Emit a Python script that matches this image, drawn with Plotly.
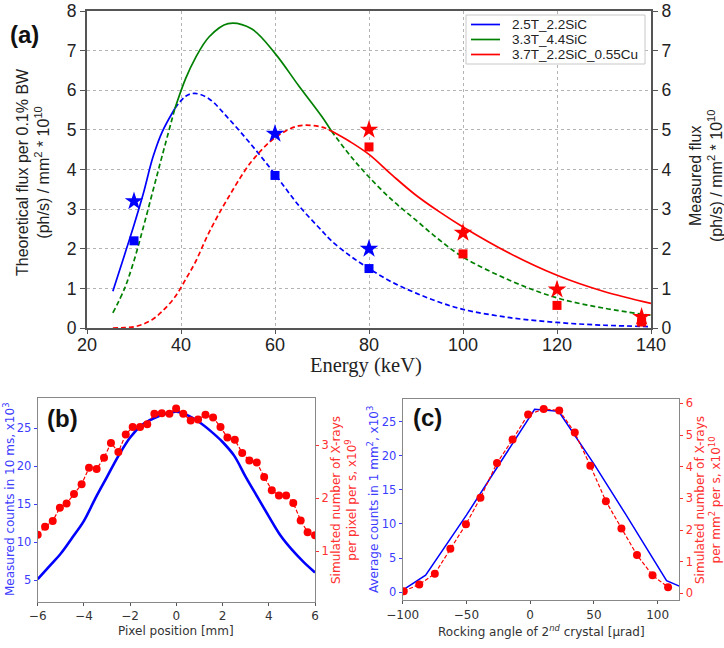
import plotly.graph_objects as go

W, H = 724, 648
def PX(x): return x / W
def PY(y): return 1 - y / H

# ---------------- Panel (a) data ----------------
energy = [25.5, 28, 30, 32, 34, 36, 38.7, 41, 43, 46, 50, 55, 60, 65, 70, 72, 76, 80, 85, 90, 95, 100, 110, 120, 130, 140]
flux_25T = [0.93, 1.85, 2.6, 3.4, 4.3, 4.95, 5.54, 5.85, 5.92, 5.78, 5.3, 4.62, 3.88, 3.1, 2.45, 2.2, 1.82, 1.5, 1.15, 0.88, 0.65, 0.47, 0.26, 0.14, 0.07, 0.035]
flux_33T = [0.38, 1.0, 1.7, 2.55, 3.45, 4.35, 5.54, 6.3, 6.8, 7.35, 7.68, 7.55, 6.93, 6.12, 5.33, 4.97, 4.35, 3.81, 3.22, 2.72, 2.22, 1.79, 1.2, 0.76, 0.5, 0.32]
flux_37T = [0.0, 0.01, 0.03, 0.1, 0.22, 0.42, 0.78, 1.23, 1.65, 2.42, 3.28, 4.2, 4.8, 5.1, 5.07, 4.97, 4.7, 4.38, 3.85, 3.35, 2.93, 2.55, 1.88, 1.33, 0.92, 0.62]
series_names = ["2.5T_2.2SiC", "3.3T_4.4SiC", "3.7T_2.2SiC_0.55Cu"]
series_colors = ["#0000ff", "#008000", "#ff0000"]
solid_ranges = [(25.5, 38.7), (38.7, 72), (72, 140)]

meas_energy_blue = [30, 60, 80]
meas_star_blue = [3.2, 4.9, 2.0]
meas_square_blue = [2.2, 3.85, 1.5]
meas_energy_red = [80, 100, 120, 138]
meas_star_red = [5.0, 2.4, 0.97, 0.28]
meas_square_red = [4.57, 1.87, 0.57, 0.15]

# ---------------- Panel (b) data ----------------
pixel_pos = [-6, -5.5, -5, -4.5, -4, -3.5, -3, -2.5, -2, -1.5, -1, -0.5, 0, 0.5, 1, 1.5, 2, 2.5, 3, 3.5, 4, 4.5, 5, 5.5, 6]
measured_counts = [5.1, 6.8, 8.5, 10.6, 12.8, 15.8, 18.6, 21.4, 23.8, 25.4, 26.3, 26.9, 27.2, 26.7, 25.8, 24.6, 23.2, 21.4, 18.6, 16.0, 13.4, 10.9, 9.0, 7.4, 6.0]
sim_pos = [-6.0, -5.68, -5.35, -5.04, -4.75, -4.43, -4.10, -3.78, -3.45, -3.13, -2.83, -2.51, -2.19, -1.89, -1.57, -1.26, -0.95, -0.63, -0.30, -0.01, 0.30, 0.62, 0.94, 1.26, 1.59, 1.91, 2.21, 2.53, 2.85, 3.16, 3.48, 3.80, 4.13, 4.44, 4.75, 5.06, 5.38, 5.68, 6.0]
sim_xrays = [1.31, 1.46, 1.57, 1.82, 1.90, 2.08, 2.26, 2.57, 2.55, 2.76, 3.04, 2.87, 3.20, 3.34, 3.34, 3.39, 3.59, 3.60, 3.59, 3.69, 3.59, 3.46, 3.48, 3.57, 3.52, 3.34, 3.14, 3.10, 2.85, 2.71, 2.67, 2.40, 2.15, 2.05, 2.05, 1.91, 1.58, 1.36, 1.30]

# ---------------- Panel (c) data ----------------
rock_angle = [-100, -82, -50, -25, 3.5, 22.3, 50, 75, 107, 117]
avg_counts = [0.3, 2.5, 11.3, 18.5, 26.8, 26.5, 18.8, 11.4, 1.7, 0.9]
sim_angle = [-99.2, -87, -74.8, -62.6, -50.4, -39, -26, -13.8, -1.6, 10.6, 22.8, 35, 47.2, 59.4, 71.6, 83.8, 96, 108.2]
sim_rock = [0.07, 0.28, 0.62, 1.41, 2.18, 3.02, 4.12, 4.86, 5.65, 5.82, 5.78, 5.08, 4.03, 2.91, 2.05, 1.21, 0.57, 0.19]

fig = go.Figure()

# ---- panel (a) curves ----
for vals, name, col, (lo, hi) in zip([flux_25T, flux_33T, flux_37T], series_names, series_colors, solid_ranges):
    sx = [e for e in energy if lo <= e <= hi]
    sy = [v for e, v in zip(energy, vals) if lo <= e <= hi]
    dx, dy = [], []
    left = [(e, v) for e, v in zip(energy, vals) if e <= lo]
    right = [(e, v) for e, v in zip(energy, vals) if e >= hi]
    if len(left) > 1:
        dx += [p[0] for p in left] + [None]
        dy += [p[1] for p in left] + [None]
    if len(right) > 1:
        dx += [p[0] for p in right]
        dy += [p[1] for p in right]
    fig.add_trace(go.Scatter(x=dx, y=dy, mode="lines", line=dict(color=col, width=1.7, dash="5px,3px", shape="spline"),
                             showlegend=False, xaxis="x", yaxis="y", hoverinfo="skip"))
    fig.add_trace(go.Scatter(x=sx, y=sy, mode="lines", name=name, line=dict(color=col, width=1.7, shape="spline"),
                             showlegend=False, xaxis="x", yaxis="y"))

fig.add_trace(go.Scatter(x=meas_energy_blue, y=meas_star_blue, mode="markers", marker=dict(symbol="star", size=14, color="#0000ff"),
                         showlegend=False, xaxis="x", yaxis="y2"))
fig.add_trace(go.Scatter(x=meas_energy_blue, y=meas_square_blue, mode="markers", marker=dict(symbol="square", size=9, color="#0000ff"),
                         showlegend=False, xaxis="x", yaxis="y2"))
fig.add_trace(go.Scatter(x=meas_energy_red, y=meas_star_red, mode="markers", marker=dict(symbol="star", size=14, color="#ff0000"),
                         showlegend=False, xaxis="x", yaxis="y2"))
fig.add_trace(go.Scatter(x=meas_energy_red, y=meas_square_red, mode="markers", marker=dict(symbol="square", size=9, color="#ff0000"),
                         showlegend=False, xaxis="x", yaxis="y2"))

# ---- panel (b) ----
fig.add_trace(go.Scatter(x=pixel_pos, y=measured_counts, mode="lines", line=dict(color="#0000ff", width=2.6, shape="spline"),
                         showlegend=False, xaxis="x2", yaxis="y3"))
fig.add_trace(go.Scatter(x=sim_pos, y=sim_xrays, mode="lines+markers", line=dict(color="#ff0000", width=1.2, dash="4px,2px"),
                         marker=dict(color="#ff0000", size=8), showlegend=False, xaxis="x2", yaxis="y4"))

# ---- panel (c) ----
fig.add_trace(go.Scatter(x=rock_angle, y=avg_counts, mode="lines", line=dict(color="#0000ff", width=1.5),
                         showlegend=False, xaxis="x3", yaxis="y5"))
fig.add_trace(go.Scatter(x=sim_angle, y=sim_rock, mode="lines+markers", line=dict(color="#ff0000", width=1.2, dash="4px,2px"),
                         marker=dict(color="#ff0000", size=8), showlegend=False, xaxis="x3", yaxis="y6"))

FA = "Liberation Sans, Arial, sans-serif"
FD = "DejaVu Sans, sans-serif"
BLUE_T = "#3c3cff"
RED_T = "#ff3030"
AX = "#555555"
GRID = "#b4b4b4"

common = dict(automargin=False, zeroline=False)

fig.update_layout(
    width=W, height=H, margin=dict(l=0, r=0, t=0, b=0, pad=0, autoexpand=False),
    plot_bgcolor="white", paper_bgcolor="white",
    font=dict(family=FA, color="#222"),
    showlegend=False,
    # (a)
    xaxis=dict(domain=[PX(87), PX(651)], range=[20, 140], tickvals=[20, 40, 60, 80, 100, 120, 140],
               showline=True, mirror=True, linecolor=AX, linewidth=2, ticks="outside", ticklen=4, tickcolor=AX,
               showgrid=True, gridcolor=GRID, griddash="dot", gridwidth=1, ticklabelstandoff=-5,
               tickfont=dict(family=FA, size=18, color="#222"), anchor="y", **common),
    yaxis=dict(domain=[PY(328), PY(11)], range=[0, 8], tickvals=list(range(9)),
               showline=True, linecolor=AX, linewidth=2, ticks="outside", ticklen=5, tickcolor=AX,
               showgrid=True, gridcolor=GRID, griddash="dot", gridwidth=1,
               tickfont=dict(family=FA, size=17.5, color="#222"), anchor="x", **common),
    yaxis2=dict(overlaying="y", side="right", range=[0, 8], tickvals=list(range(9)), anchor="x",
                showline=True, linecolor=AX, linewidth=2, ticks="outside", ticklen=5, tickcolor=AX,
                showgrid=False, tickfont=dict(family=FA, size=17.5, color="#222"), **common),
    # (b)
    xaxis2=dict(domain=[PX(37.7), PX(315)], range=[-6, 6], tickvals=[-6, -4, -2, 0, 2, 4, 6], anchor="y3",
                showline=True, mirror=True, linecolor="#888", linewidth=1.2, ticks="outside", ticklen=3, tickcolor="#555",
                showgrid=False, tickfont=dict(family=FD, size=12, color="#333"), **common),
    yaxis3=dict(domain=[PY(601.7), PY(398.3)], range=[2.14, 28.96], tickvals=[5, 10, 15, 20, 25], anchor="x2",
                showline=True, linecolor="#888", linewidth=1.2, ticks="outside", ticklen=3, tickcolor=BLUE_T,
                showgrid=False, tickfont=dict(family=FD, size=11.5, color=BLUE_T), **common),
    yaxis4=dict(overlaying="y3", side="right", range=[0.05, 3.88], tickvals=[1, 2, 3], anchor="x2",
                showline=True, linecolor="#888", linewidth=1.2, ticks="outside", ticklen=3, tickcolor=RED_T,
                showgrid=False, tickfont=dict(family=FD, size=11.5, color=RED_T), **common),
    # (c)
    xaxis3=dict(domain=[PX(402.7), PX(679.3)], range=[-100, 117], tickvals=[-100, -50, 0, 50, 100], anchor="y5",
                showline=True, mirror=True, linecolor="#888", linewidth=1.2, ticks="outside", ticklen=3, tickcolor="#555",
                showgrid=False, tickfont=dict(family=FD, size=12, color="#333"), **common),
    yaxis5=dict(domain=[PY(600), PY(399.3)], range=[-1.13, 28.26], tickvals=[0, 5, 10, 15, 20, 25], anchor="x3",
                showline=True, linecolor="#888", linewidth=1.2, ticks="outside", ticklen=3, tickcolor=BLUE_T,
                showgrid=False, tickfont=dict(family=FD, size=11.5, color=BLUE_T), **common),
    yaxis6=dict(overlaying="y5", side="right", range=[-0.21, 6.13], tickvals=[0, 1, 2, 3, 4, 5, 6], anchor="x3",
                showline=True, linecolor="#888", linewidth=1.2, ticks="outside", ticklen=3, tickcolor=RED_T,
                showgrid=False, tickfont=dict(family=FD, size=11.5, color=RED_T), **common),
)

def ann(text, x, y, size, color="#222", family=FA, angle=0, bold=False, xanchor="center"):
    fig.add_annotation(text=("<b>%s</b>" % text) if bold else text, x=PX(x), y=PY(y), xref="paper", yref="paper",
                       showarrow=False, textangle=angle, font=dict(family=family, size=size, color=color),
                       xanchor=xanchor, yanchor="middle")

# legend box for panel (a)
fig.add_shape(type="rect", xref="paper", yref="paper", x0=PX(466), x1=PX(645), y0=PY(64), y1=PY(15),
              line=dict(color="#c8c8c8", width=1), fillcolor="white", layer="above")
for i, (name, col) in enumerate(zip(series_names, series_colors)):
    yy = 24.5 + 15 * i
    fig.add_shape(type="line", xref="paper", yref="paper", x0=PX(471), x1=PX(500), y0=PY(yy), y1=PY(yy),
                  line=dict(color=col, width=1.7), layer="above")
    ann(name, 510, yy, 13.5, "#222", xanchor="left")

ann("(a)", 24, 34, 24, "#111", bold=True)
ann("(b)", 62, 418, 24, "#111", bold=True)
ann("(c)", 427, 417, 24, "#111", bold=True)

ann("Theoretical flux per 0.1% BW<br>(ph/s) / mm<sup>2</sup> * 10<sup>10</sup>", 33, 172, 16, "#222", angle=-90)
ann("Measured flux<br>(ph/s) / mm<sup>2</sup> * 10<sup>10</sup>", 706, 176, 16, "#222", angle=-90)
ann("Energy (keV)", 366, 366, 20.5, "#222", family="Liberation Serif, Times New Roman, serif")

ann("Measured counts in 10 ms, x10<sup>3</sup>", 9, 500, 12, BLUE_T, family=FD, angle=-90)
ann("Simulated number of X-rays<br>per pixel per s, x10<sup>9</sup>", 344, 500, 12, RED_T, family=FD, angle=-90)
ann("Pixel position [mm]", 176, 631, 12, "#333", family=FD)

ann("Average counts in 1 mm<sup>2</sup>, x10<sup>3</sup>", 373, 500, 12, BLUE_T, family=FD, angle=-90)
ann("Simulated number of X-rays<br>per mm<sup>2</sup> per s, x10<sup>10</sup>", 708, 500, 12, RED_T, family=FD, angle=-90)
ann("Rocking angle of 2<sup><i>nd</i></sup> crystal [μrad]", 541, 631, 12, "#333", family=FD)

fig.write_html("out.html", config={"displayModeBar": False},
               post_script="document.body.style.margin='0px';document.body.style.overflow='hidden';")
